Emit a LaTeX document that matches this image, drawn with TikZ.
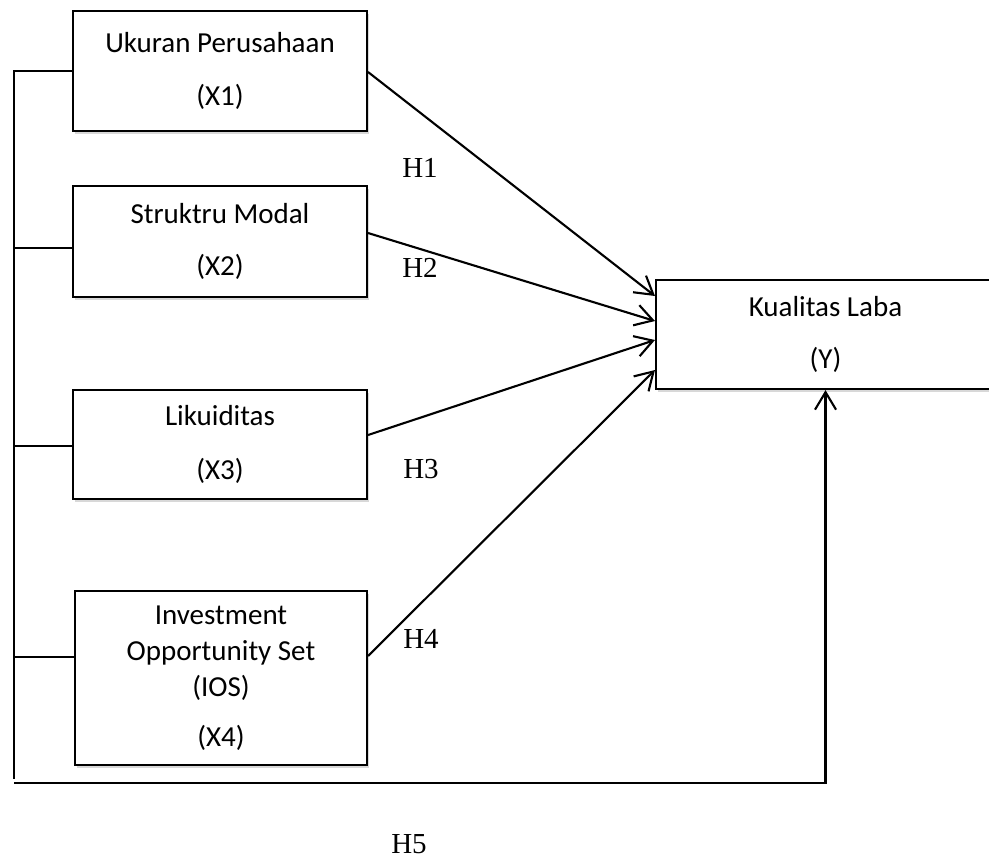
\documentclass[tikz,border=0pt]{standalone}
\usepackage{fontspec}
\setmainfont{Liberation Serif}
\newfontfamily\boxfont{Carlito}
\usetikzlibrary{arrows.meta,shadows}

\tikzset{
  varbox/.style={draw, line width=1.2pt, fill=white, align=center, inner sep=0pt,
    font=\boxfont\fontsize{16.5}{20.5}\selectfont,
    drop shadow={shadow xshift=1.2pt, shadow yshift=-1.5pt, fill=black!30, opacity=0.5}},
  hlabel/.style={font=\fontsize{16.5}{19}\selectfont},
  link/.style={line width=1.2pt, -{Straight Barb[length=10pt,width=12pt]}},
  bus/.style={line width=1.2pt},
}

\begin{document}
\begin{tikzpicture}[x=0.02cm, y=-0.02cm]
\useasboundingbox (0,0) rectangle (989,860);
% variables
\node[varbox, minimum width=5.88cm, minimum height=2.4cm] (x1) at (220,71) {Ukuran Perusahaan\\[9.5pt](X1)};
\node[varbox, minimum width=5.88cm, minimum height=2.22cm] (x2) at (220,241.5) {Struktru Modal\\[9.5pt](X2)};
\node[varbox, minimum width=5.88cm, minimum height=2.18cm] (x3) at (220,444.5) {Likuiditas\\[10.5pt](X3)};
\node[varbox, minimum width=5.84cm, minimum height=3.48cm] (x4) at (221,678) {Investment\\Opportunity Set\\(IOS)\\[8pt](X4)};
\node[varbox, minimum width=6.78cm, minimum height=2.18cm] (y) at (825.5,334.5) {Kualitas Laba\\[9.5pt](Y)};

% left bus
\coordinate (busend) at (14,779);
\coordinate (bottomstart) at (14,783);
\draw[bus] (x1.west) -| (busend);
\draw[bus] (x2.west |- 0,248) -- (busend |- 0,248);
\draw[bus] (x3.west |- 0,446) -- (busend |- 0,446);
\draw[bus] (x4.west |- 0,657) -- (busend |- 0,657);

% hypotheses
\draw[link] (x1.east |- 0,72) -- (y.west |- 0,296);
\draw[link] (x2.east |- 0,233) -- (y.west |- 0,321);
\draw[link] (x3.east |- 0,435) -- (y.west |- 0,340);
\draw[link] (x4.east |- 0,656) -- (y.west |- 0,370);
\draw[link] (bottomstart) -| (y.south);

\node[hlabel] (h1) at (420,168) {H1};
\node[hlabel] (h2) at (420,268) {H2};
\node[hlabel] (h3) at (421,469) {H3};
\node[hlabel] (h4) at (421,639) {H4};
\node[hlabel] (h5) at (409,844) {H5};
\end{tikzpicture}
\end{document}
